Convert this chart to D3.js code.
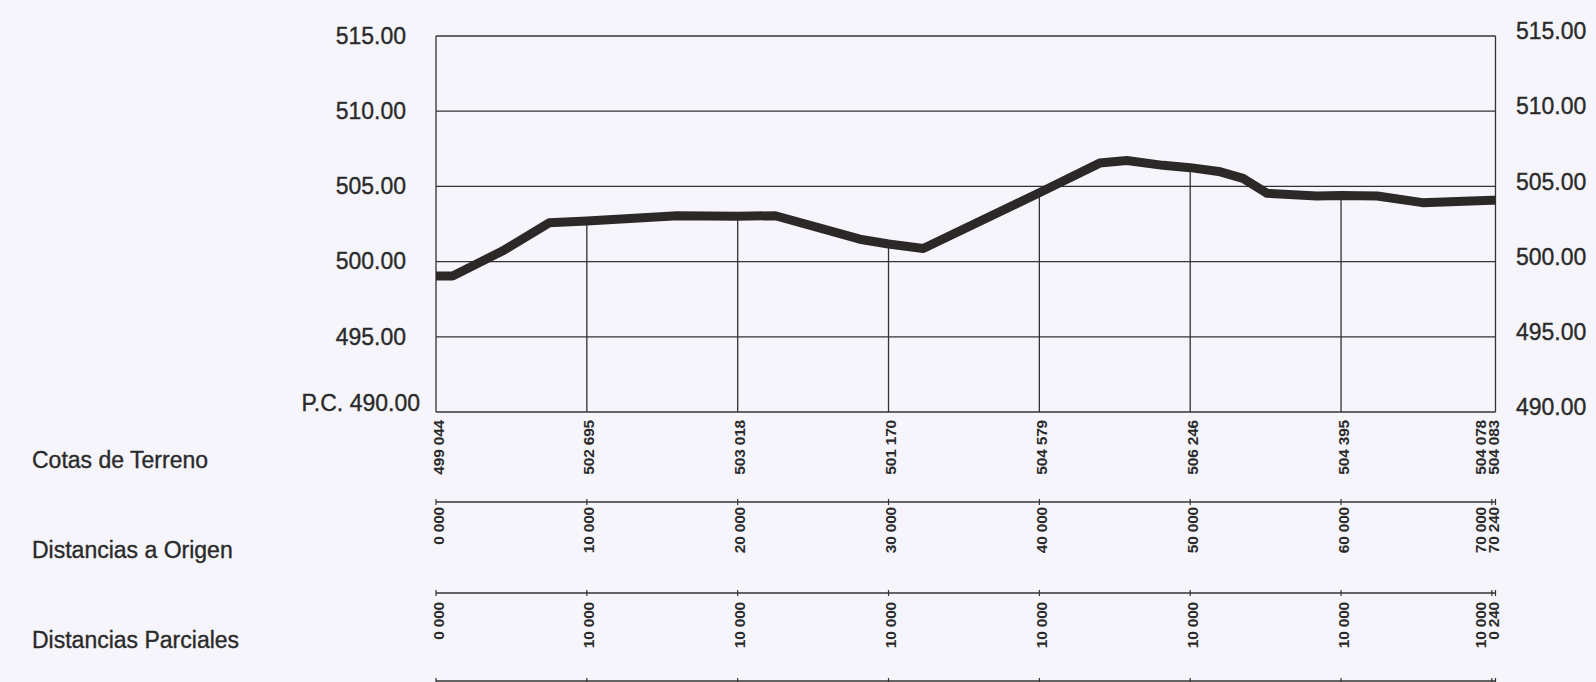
<!DOCTYPE html>
<html>
<head>
<meta charset="utf-8">
<script src="https://cdn.jsdelivr.net/npm/d3@7"></script>
<style>
  html, body { margin: 0; padding: 0; background: #f5f5fb; }
  svg { display: block; }
  text { font-family: "Liberation Sans", Arial, sans-serif; fill: #2a2a2a; }
</style>
</head>
<body>
<svg id="chart" width="1596" height="682"></svg>
<script>
// ---- data ----
const stations = [0, 10000, 20000, 30000, 40000, 50000, 60000, 70000, 70240];
const cotasLabels = ["499 044", "502 695", "503 018", "501 170", "504 579", "506 246", "504 395", "504 078", "504 083"];
const origenLabels = ["0 000", "10 000", "20 000", "30 000", "40 000", "50 000", "60 000", "70 000", "70 240"];
const parcialLabels = ["0 000", "10 000", "10 000", "10 000", "10 000", "10 000", "10 000", "10 000", "0 240"];
const stationElev = [499.044, 502.695, 503.018, 501.170, 504.579, 506.246, 504.395, 504.078, 504.083];

const profileDist = [0, 1100, 4400, 7500, 10000, 16000, 20000, 22500, 28100, 30000, 32300, 40000, 44000, 45800, 48200, 50000, 52000, 53500, 55100, 58400, 60000, 62400, 65400, 70000, 70240];
const profileElev = [499.044, 499.04, 500.70, 502.58, 502.695, 503.05, 503.018, 503.05, 501.49, 501.170, 500.87, 504.579, 506.55, 506.72, 506.40, 506.246, 505.97, 505.53, 504.54, 504.36, 504.395, 504.36, 503.92, 504.078, 504.083];

const yTicks = [515, 510, 505, 500, 495, 490];
const yLeftLabels = ["515.00", "510.00", "505.00", "500.00", "495.00", "P.C. 490.00"];
const yRightLabels = ["515.00", "510.00", "505.00", "500.00", "495.00", "490.00"];
const rowTitles = ["Cotas de Terreno", "Distancias a Origen", "Distancias Parciales"];

// ---- layout ----
const svg = d3.select("#chart");
const x = d3.scaleLinear().domain([0, 70240]).range([436, 1495.5]);
const y = d3.scaleLinear().domain([490, 515]).range([412, 36]);
const ink = "#333333";

// horizontal grid lines
svg.append("g").selectAll("line").data(yTicks).join("line")
  .attr("x1", x(0)).attr("x2", x(70240))
  .attr("y1", d => y(d)).attr("y2", d => y(d))
  .attr("stroke", ink).attr("stroke-width", 1.3);

// vertical lines from terrain to datum (borders full height)
const verts = stations.map((s, i) => ({s, e: stationElev[i], i}))
  .filter(d => d.i !== stations.length - 2);
svg.append("g").selectAll("line").data(verts).join("line")
  .attr("x1", d => x(d.s)).attr("x2", d => x(d.s))
  .attr("y1", d => (d.i === 0 || d.i === stations.length - 1) ? y(515) : y(d.e))
  .attr("y2", y(490))
  .attr("stroke", ink).attr("stroke-width", 1.3);

// left axis
const leftAxis = d3.axisLeft(y).tickValues(yTicks)
  .tickFormat((d, i) => yLeftLabels[i]).tickSize(0).tickPadding(0);
const gl = svg.append("g").attr("transform", "translate(406,0)").call(leftAxis);
gl.select(".domain").remove();
gl.selectAll("text").attr("font-size", 23).attr("fill", "#2a2a2a")
  .attr("stroke", "#2a2a2a").attr("stroke-width", 0.35)
  .attr("font-family", "'Liberation Sans', Arial, sans-serif")
  .attr("dx", d => d === 490 ? 14 : 0).attr("dy", d => d === 490 ? "-0.05em" : "0.32em");

// right axis
const rightAxis = d3.axisRight(y).tickValues(yTicks)
  .tickFormat((d, i) => yRightLabels[i]).tickSize(0).tickPadding(0);
const gr = svg.append("g").attr("transform", "translate(1516,0)").call(rightAxis);
gr.select(".domain").remove();
gr.selectAll("text").attr("font-size", 23).attr("fill", "#2a2a2a")
  .attr("stroke", "#2a2a2a").attr("stroke-width", 0.35)
  .attr("font-family", "'Liberation Sans', Arial, sans-serif")
  .attr("dy", "0.12em");

// terrain profile
const line = d3.line().x(d => x(d[0])).y(d => y(d[1]));
svg.append("path")
  .datum(profileDist.map((d, i) => [d, profileElev[i]]))
  .attr("d", line)
  .attr("fill", "none")
  .attr("stroke", "#2c2828")
  .attr("stroke-width", 9)
  .attr("stroke-linejoin", "round")
  .attr("stroke-linecap", "butt");

// row titles
const rowBaselines = [468, 558, 648];
svg.append("g").selectAll("text").data(rowTitles).join("text")
  .attr("x", 32).attr("y", (d, i) => rowBaselines[i])
  .attr("font-size", 23).attr("fill", "#2a2a2a")
  .attr("stroke", "#2a2a2a").attr("stroke-width", 0.35)
  .text(d => d);

// separator lines with ticks
const sepY = [502, 593, 681];
sepY.forEach(sy => {
  svg.append("line").attr("x1", x(0)).attr("x2", x(70240))
    .attr("y1", sy).attr("y2", sy).attr("stroke", ink).attr("stroke-width", 1.3);
  svg.append("g").selectAll("line").data(stations).join("line")
    .attr("x1", d => x(d)).attr("x2", d => x(d))
    .attr("y1", sy - 3).attr("y2", sy + 3)
    .attr("stroke", ink).attr("stroke-width", 1.2);
});

// rotated station labels
function labelX(i) {
  const last = stations.length - 1;
  if (i === last) return x(stations[i]) - 2;
  if (i === last - 1) return x(stations[last]) - 15.5;
  return x(stations[i]) + 2;
}
const rows = [
  {labels: cotasLabels, top: 420},
  {labels: origenLabels, top: 507},
  {labels: parcialLabels, top: 602}
];
rows.forEach(r => {
  svg.append("g").selectAll("text").data(r.labels).join("text")
    .attr("transform", (d, i) => `translate(${labelX(i)},${r.top}) rotate(-90)`)
    .attr("text-anchor", "end")
    .attr("dominant-baseline", "central")
    .attr("font-size", 15.5)
    .attr("font-weight", "bold")
    .attr("letter-spacing", -0.2)
    .attr("fill", "#333")
    .text(d => d);
});
</script>
</body>
</html>
